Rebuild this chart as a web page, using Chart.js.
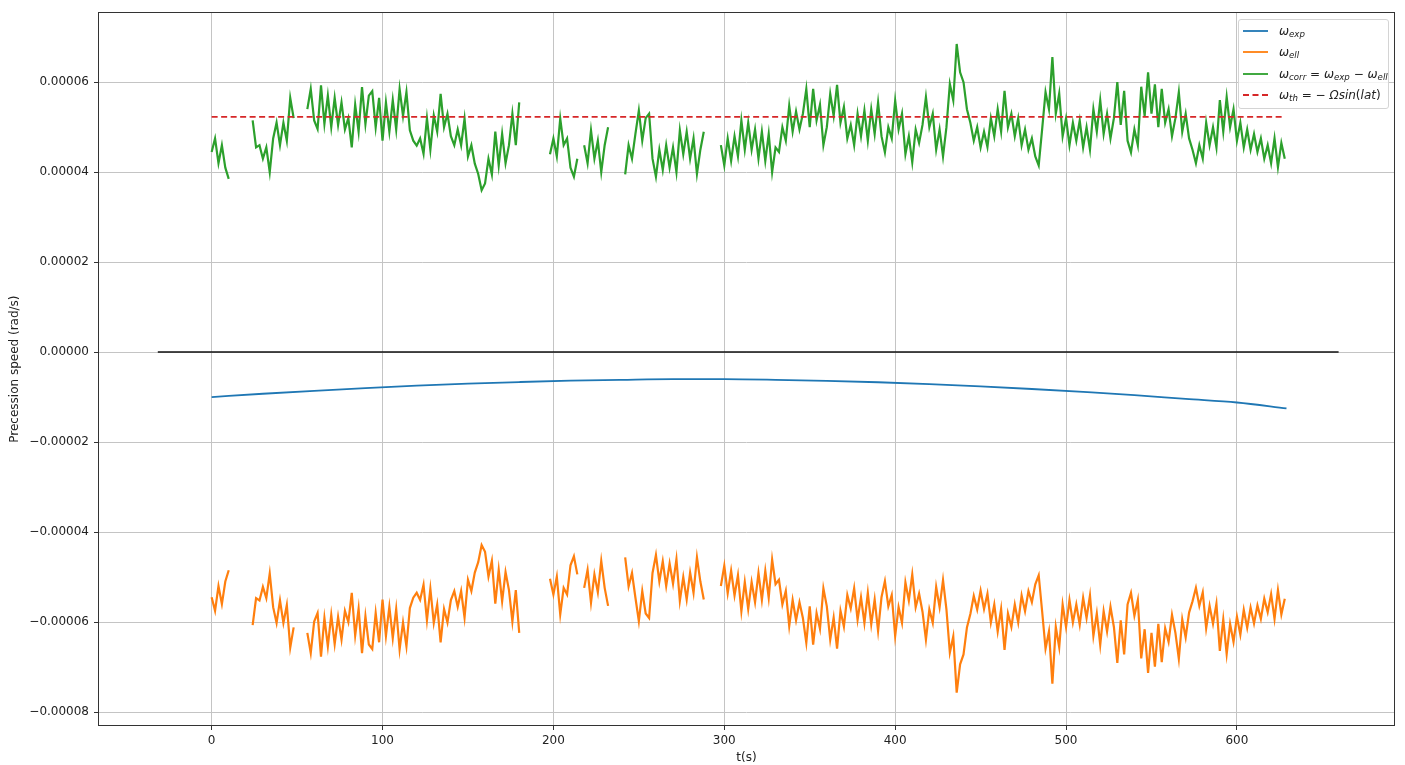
<!DOCTYPE html>
<html>
<head>
<meta charset="utf-8">
<script src="https://cdn.jsdelivr.net/npm/chart.js@4.4.1/dist/chart.umd.min.js"></script>
<style>
html,body{margin:0;padding:0;background:#fff;}
#wrap{position:relative;width:1405px;height:765px;}
#legend{position:absolute;left:1238px;top:19px;width:151px;height:90px;box-sizing:border-box;
  background:rgba(255,255,255,0.8);border:1px solid #d4d4d4;border-radius:3px;
  font-family:"DejaVu Sans",sans-serif;font-size:12px;color:#222;padding:0 0 0 4px;}
#legend .row{height:21.5px;display:flex;align-items:center;white-space:nowrap;}
#legend svg{margin-right:11px;flex:none;}
#legend sub{font-size:0.72em;vertical-align:-0.28em;line-height:0;}
</style>
</head>
<body>
<div id="wrap">
  <canvas id="c" width="1405" height="765"></canvas>
  <div id="legend"></div>
</div>
<script>
// values of the y axis are in units of 1e-5 rad/s (tick labels give the real values)
const tGrid = [
  0,2,4,6,8,10,12,14,16,18,
  20,22,24,26,28,30,32,34,36,38,
  40,42,44,46,48,50,52,54,56,58,
  60,62,64,66,68,70,72,74,76,78,
  80,82,84,86,88,90,92,94,96,98,
  100,102,104,106,108,110,112,114,116,118,
  120,122,124,126,128,130,132,134,136,138,
  140,142,144,146,148,150,152,154,156,158,
  160,162,164,166,168,170,172,174,176,178,
  180,182,184,186,188,190,192,194,196,198,
  200,202,204,206,208,210,212,214,216,218,
  220,222,224,226,228,230,232,234,236,238,
  240,242,244,246,248,250,252,254,256,258,
  260,262,264,266,268,270,272,274,276,278,
  280,282,284,286,288,290,292,294,296,298,
  300,302,304,306,308,310,312,314,316,318,
  320,322,324,326,328,330,332,334,336,338,
  340,342,344,346,348,350,352,354,356,358,
  360,362,364,366,368,370,372,374,376,378,
  380,382,384,386,388,390,392,394,396,398,
  400,402,404,406,408,410,412,414,416,418,
  420,422,424,426,428,430,432,434,436,438,
  440,442,444,446,448,450,452,454,456,458,
  460,462,464,466,468,470,472,474,476,478,
  480,482,484,486,488,490,492,494,496,498,
  500,502,504,506,508,510,512,514,516,518,
  520,522,524,526,528,530,532,534,536,538,
  540,542,544,546,548,550,552,554,556,558,
  560,562,564,566,568,570,572,574,576,578,
  580,582,584,586,588,590,592,594,596,598,
  600,602,604,606,608,610,612,614,616,618,
  620,622,624,626,628
];
const omegaCorr = [
  4.45,4.75,4.2,4.6,4.1,3.85,null,null,null,null,
  null,null,5.15,4.55,4.6,4.3,4.55,4.0,4.75,5.1,
  4.6,5.1,4.7,5.65,5.2,null,null,null,5.4,5.85,
  5.15,4.96,5.93,5.07,5.7,5.0,5.65,5.05,5.55,4.95,
  5.2,4.55,5.5,4.9,5.89,5.07,5.7,5.8,5.0,5.65,
  4.7,5.55,4.9,5.6,4.95,5.85,5.25,5.78,4.93,4.7,
  4.59,4.75,4.41,5.2,4.5,5.26,4.9,5.74,5.0,5.3,
  4.8,4.6,4.95,4.6,5.19,4.35,4.6,4.19,3.96,3.6,
  3.75,4.3,3.95,4.9,4.15,4.85,4.2,4.6,5.3,4.6,
  5.55,null,null,null,null,null,null,null,null,4.4,
  4.75,4.35,5.19,4.6,4.75,4.1,3.9,4.3,null,4.6,
  4.2,4.93,4.3,4.7,4.0,4.6,5.0,null,null,null,
  null,3.95,4.6,4.3,4.85,5.37,4.7,5.2,5.3,4.3,
  3.9,4.5,4.05,4.6,4.1,4.55,4.0,4.93,4.4,4.9,
  4.3,4.75,3.96,4.5,4.9,null,null,null,null,4.6,
  4.15,4.75,4.25,4.8,4.35,5.15,4.5,5.1,4.5,4.95,
  4.3,4.9,4.25,4.85,4.0,4.55,4.45,5.0,4.7,5.48,
  4.9,5.35,4.95,5.3,5.85,5.0,5.85,5.15,5.5,4.6,
  5.0,5.74,5.25,5.94,5.1,5.45,4.75,5.05,4.6,5.3,
  4.8,5.37,4.7,5.4,4.85,5.55,4.8,4.44,5.0,4.75,
  5.59,4.95,5.3,4.4,4.8,4.22,4.95,4.65,5.05,5.67,
  5.0,5.3,4.5,4.95,4.35,5.0,5.96,5.6,6.85,6.22,
  6.0,5.4,5.1,4.7,5.0,4.55,4.9,4.56,5.2,4.8,
  5.4,4.9,5.81,5.0,5.3,4.8,5.2,4.6,4.95,4.5,
  4.75,4.35,4.15,4.95,5.78,5.4,6.56,5.3,5.75,4.8,
  5.2,4.6,5.1,4.7,5.15,4.55,5.0,4.5,5.4,4.9,
  5.6,4.85,5.3,4.75,5.2,6.0,5.05,5.81,4.7,4.44,
  4.95,4.6,5.9,5.25,6.22,5.3,5.95,5.0,5.85,5.1,
  5.4,4.8,5.2,5.78,4.9,5.3,4.75,4.5,4.2,4.6,
  4.3,5.1,4.6,5.0,4.55,5.6,4.9,5.67,5.0,5.4,
  4.7,5.1,4.55,4.95,4.5,4.85,4.45,4.75,4.3,4.6,
  4.2,4.75,4.11,4.65,4.3
];
const omegaEll = [
  -5.45,-5.75,-5.2,-5.6,-5.1,-4.85,null,null,null,null,
  null,null,-6.07,-5.47,-5.52,-5.22,-5.47,-4.92,-5.67,-6.02,
  -5.52,-6.02,-5.62,-6.57,-6.12,null,null,null,-6.24,-6.69,
  -5.99,-5.8,-6.77,-5.91,-6.54,-5.84,-6.49,-5.89,-6.39,-5.75,
  -6.0,-5.35,-6.3,-5.7,-6.69,-5.87,-6.5,-6.6,-5.8,-6.45,
  -5.5,-6.31,-5.66,-6.36,-5.71,-6.61,-6.01,-6.54,-5.69,-5.46,
  -5.35,-5.51,-5.17,-5.96,-5.26,-6.02,-5.61,-6.45,-5.71,-6.01,
  -5.51,-5.31,-5.66,-5.31,-5.9,-5.06,-5.31,-4.9,-4.67,-4.29,
  -4.44,-4.99,-4.64,-5.59,-4.84,-5.54,-4.89,-5.29,-5.99,-5.29,
  -6.24,null,null,null,null,null,null,null,null,-5.04,
  -5.39,-4.99,-5.83,-5.24,-5.39,-4.74,-4.54,-4.94,null,-5.24,
  -4.84,-5.57,-4.94,-5.34,-4.64,-5.24,-5.64,null,null,null,
  null,-4.56,-5.21,-4.91,-5.46,-5.98,-5.31,-5.81,-5.91,-4.91,
  -4.51,-5.1,-4.65,-5.2,-4.7,-5.15,-4.6,-5.53,-5.0,-5.5,
  -4.9,-5.35,-4.56,-5.1,-5.5,null,null,null,null,-5.2,
  -4.75,-5.36,-4.86,-5.41,-4.96,-5.76,-5.11,-5.71,-5.11,-5.56,
  -4.91,-5.51,-4.86,-5.46,-4.61,-5.16,-5.06,-5.61,-5.31,-6.09,
  -5.51,-5.96,-5.56,-5.91,-6.46,-5.65,-6.5,-5.8,-6.15,-5.25,
  -5.65,-6.39,-5.9,-6.59,-5.75,-6.1,-5.4,-5.7,-5.25,-5.95,
  -5.45,-6.02,-5.35,-6.05,-5.5,-6.2,-5.45,-5.09,-5.65,-5.4,
  -6.31,-5.67,-6.02,-5.12,-5.52,-4.94,-5.67,-5.37,-5.77,-6.39,
  -5.72,-6.02,-5.22,-5.67,-5.07,-5.72,-6.68,-6.32,-7.57,-6.94,
  -6.72,-6.12,-5.82,-5.42,-5.72,-5.3,-5.71,-5.37,-6.01,-5.61,
  -6.21,-5.71,-6.62,-5.81,-6.11,-5.61,-6.01,-5.41,-5.76,-5.31,
  -5.56,-5.16,-4.96,-5.76,-6.59,-6.21,-7.37,-6.11,-6.56,-5.61,
  -6.11,-5.51,-6.01,-5.61,-6.06,-5.46,-5.91,-5.41,-6.31,-5.81,
  -6.51,-5.76,-6.21,-5.66,-6.11,-6.91,-5.96,-6.72,-5.61,-5.35,
  -5.86,-5.51,-6.81,-6.16,-7.13,-6.24,-6.99,-6.04,-6.89,-6.14,
  -6.44,-5.84,-6.24,-6.82,-5.94,-6.34,-5.79,-5.54,-5.24,-5.64,
  -5.34,-6.14,-5.64,-6.04,-5.59,-6.64,-5.94,-6.71,-6.04,-6.44,
  -5.88,-6.28,-5.73,-6.13,-5.68,-6.03,-5.63,-5.93,-5.48,-5.78,
  -5.38,-5.93,-5.29,-5.83,-5.48
];
const tExp = [0,30,60,90,120,150,180,210,240,270,300,330,360,390,420,450,480,510,540,570,600,629];
const omegaExp = [-1.00,-0.925,-0.86,-0.80,-0.745,-0.70,-0.665,-0.635,-0.615,-0.60,-0.60,-0.615,-0.64,-0.67,-0.71,-0.76,-0.82,-0.885,-0.955,-1.04,-1.12,-1.25];
const tTh = [0, 628];
const omegaTh = [5.23, 5.23];
const tZero = [-31.5, 659.5];
const zeroLine = [0, 0];

const xTicks = [0,100,200,300,400,500,600];
const xTickLabels = ['0','100','200','300','400','500','600'];
const yTicks = [-8,-6,-4,-2,0,2,4,6];
const yTickLabels = ['\u22120.00008','\u22120.00006','\u22120.00004','\u22120.00002','0.00000','0.00002','0.00004','0.00006'];

const legendLabels = [
  '<i>ω</i><sub><i>exp</i></sub>',
  '<i>ω</i><sub><i>ell</i></sub>',
  '<i>ω</i><sub><i>corr</i></sub> = <i>ω</i><sub><i>exp</i></sub> − <i>ω</i><sub><i>ell</i></sub>',
  '<i>ω</i><sub><i>th</i></sub> = − <i>Ωsin</i>(<i>lat</i>)'
];

const pts = (xs, ys) => xs.map((x, i) => ({x: x, y: ys[i]}));

const frame = {
  id: 'frame',
  afterDatasetsDraw(chart) {
    const a = chart.chartArea, ctx = chart.ctx;
    ctx.save();
    ctx.strokeStyle = '#333';
    ctx.lineWidth = 1;
    ctx.strokeRect(Math.round(a.left) + 0.5, Math.round(a.top) + 0.5,
                   Math.round(a.right - a.left) - 1, Math.round(a.bottom - a.top) - 1);
    ctx.restore();
  }
};

const font = {family: '"DejaVu Sans", sans-serif', size: 12};

const chart = new Chart(document.getElementById('c'), {
  type: 'line',
  data: {
    datasets: [
      {label: 'omega_exp', data: pts(tExp, omegaExp), borderColor: '#1f77b4', borderWidth: 1.8,
       cubicInterpolationMode: 'monotone', order: 4},
      {label: 'omega_ell', data: pts(tGrid, omegaEll), borderColor: '#ff7f0e', borderWidth: 2.2, order: 3},
      {label: 'omega_corr', data: pts(tGrid, omegaCorr), borderColor: '#2ca02c', borderWidth: 2.2, order: 2},
      {label: 'omega_th', data: pts(tTh, omegaTh), borderColor: '#d62728', borderWidth: 1.6,
       borderDash: [6, 3.5], order: 1},
      {label: 'zero', data: pts(tZero, zeroLine), borderColor: '#111', borderWidth: 1.5, order: 5}
    ]
  },
  options: {
    responsive: false,
    animation: false,
    events: [],
    spanGaps: false,
    layout: {padding: {left: 0, right: 10, top: 12, bottom: 0}},
    elements: {point: {radius: 0}, line: {tension: 0, fill: false}},
    plugins: {legend: {display: false}, tooltip: {enabled: false}},
    scales: {
      x: {
        type: 'linear', min: -66.5, max: 692.5,
        afterBuildTicks: (s) => { s.ticks = xTicks.map(v => ({value: v})); },
        afterFit: (s) => { s.height = 39; },
        ticks: {font: font, color: '#222', padding: 4, maxRotation: 0, autoSkip: false,
                callback: (v) => xTickLabels[xTicks.indexOf(v)]},
        grid: {color: '#c4c4c4', lineWidth: 1, tickLength: 4, tickColor: '#333', drawTicks: true},
        border: {display: false},
        title: {display: true, text: 't(s)', font: font, color: '#222', padding: {top: 0, bottom: 0}}
      },
      y: {
        type: 'linear', min: -8.311, max: 7.556,
        afterBuildTicks: (s) => { s.ticks = yTicks.map(v => ({value: v})); },
        afterFit: (s) => { s.width = 98; },
        ticks: {font: font, color: '#222', padding: 5, autoSkip: false,
                callback: (v) => yTickLabels[yTicks.indexOf(v)]},
        grid: {color: '#c4c4c4', lineWidth: 1, tickLength: 4, tickColor: '#333', drawTicks: true},
        border: {display: false},
        title: {display: true, text: 'Precession speed (rad/s)', font: font, color: '#222', padding: {top: 8, bottom: 0}}
      }
    }
  },
  plugins: [frame]
});

// HTML legend (mathtext-like labels), colours taken from the chart datasets
const leg = document.getElementById('legend');
legendLabels.forEach((html, i) => {
  const ds = chart.data.datasets[i];
  const dash = ds.borderDash ? ' stroke-dasharray="6 3.5"' : '';
  const row = document.createElement('div');
  row.className = 'row';
  row.innerHTML = '<svg width="25" height="4"><line x1="0" y1="2" x2="25" y2="2" stroke="' +
    ds.borderColor + '" stroke-width="1.8"' + dash + '/></svg><span>' + html + '</span>';
  leg.appendChild(row);
});
</script>
</body>
</html>
